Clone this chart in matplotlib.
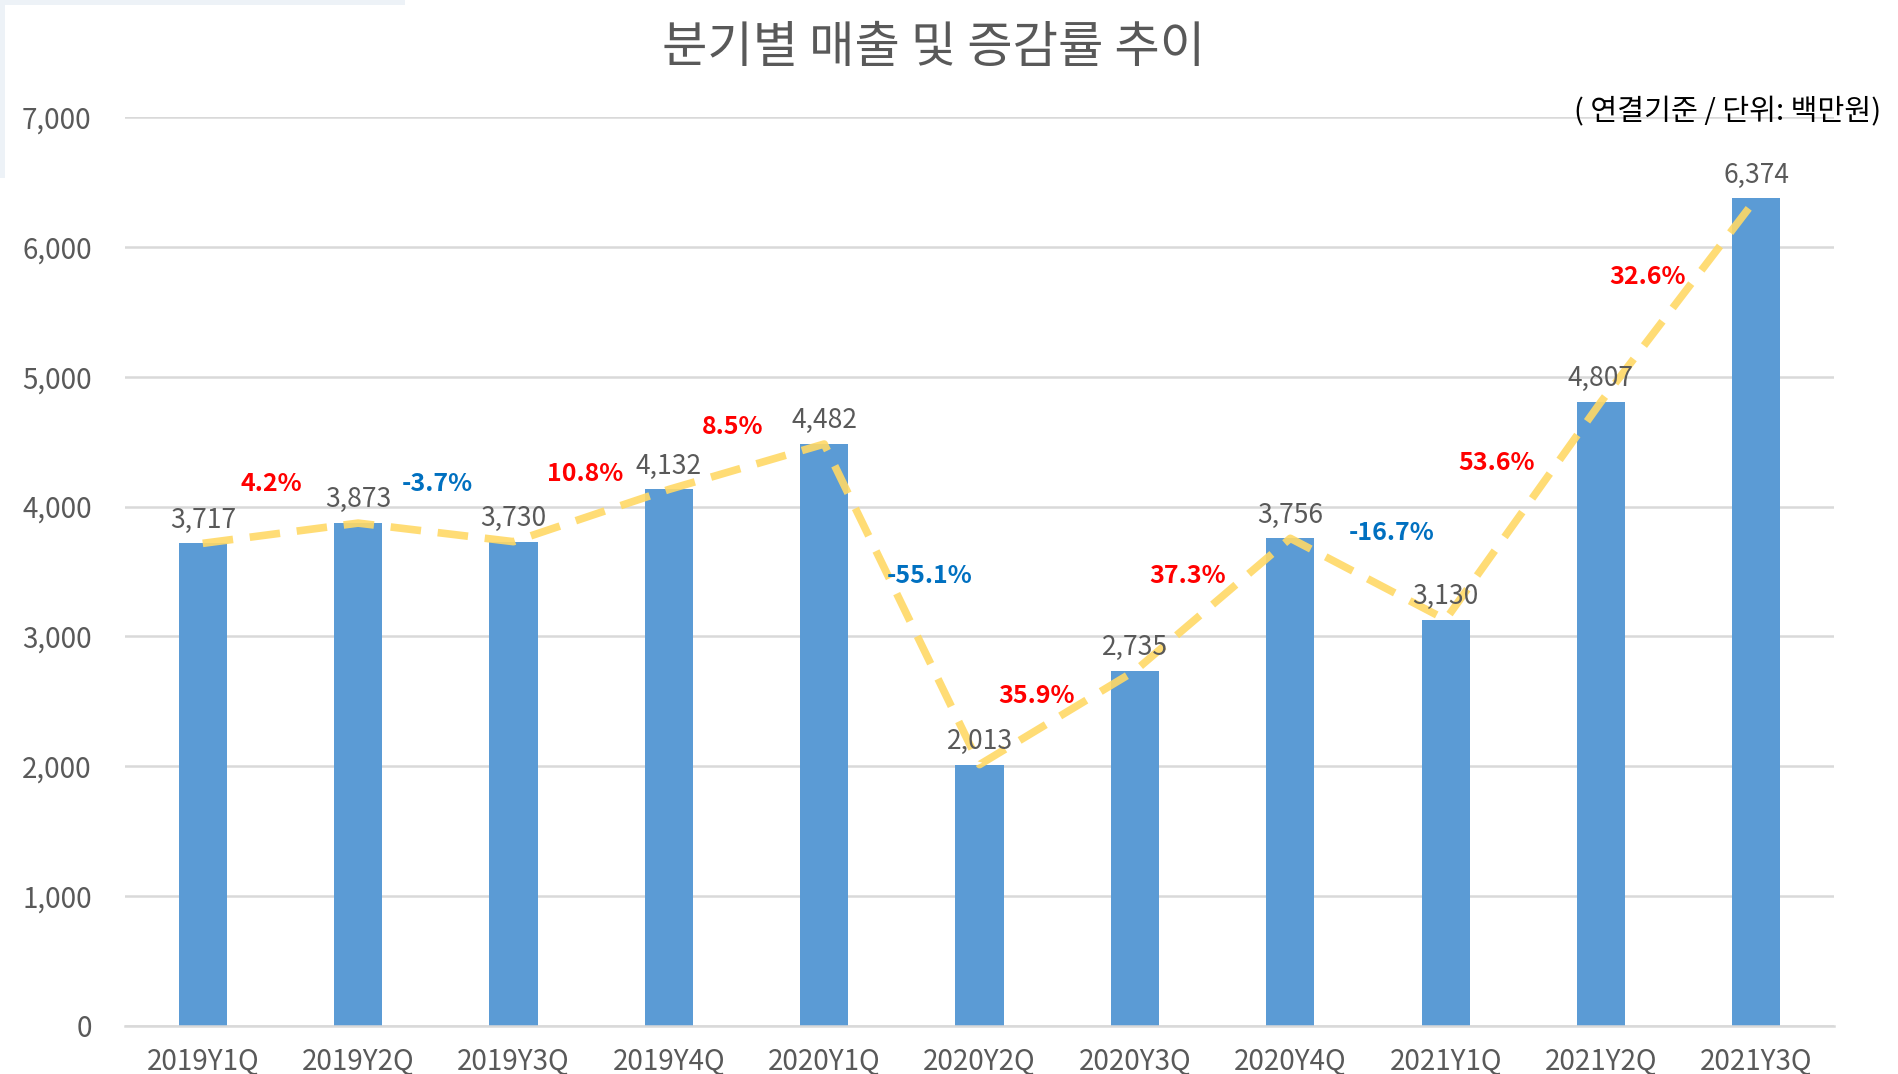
import matplotlib
matplotlib.use("Agg")
import matplotlib.pyplot as plt
from matplotlib.patches import Rectangle
import numpy as np

plt.rcParams['font.family'] = ['Noto Sans CJK KR', 'DejaVu Sans']

quarters = ["2019Y1Q", "2019Y2Q", "2019Y3Q", "2019Y4Q", "2020Y1Q", "2020Y2Q",
            "2020Y3Q", "2020Y4Q", "2021Y1Q", "2021Y2Q", "2021Y3Q"]
sales = [3717, 3873, 3730, 4132, 4482, 2013, 2735, 3756, 3130, 4807, 6374]
growth_labels = ["4.2%", "-3.7%", "10.8%", "8.5%", "-55.1%", "35.9%",
                 "37.3%", "-16.7%", "53.6%", "32.6%"]
growth_x = [0.44, 1.51, 2.46, 3.41, 4.68, 5.37, 6.34, 7.65, 8.33, 9.30]
growth_y = [4175, 4175, 4250, 4613, 3467, 2544, 3467, 3793, 4334, 5769]
yticks = [0, 1000, 2000, 3000, 4000, 5000, 6000, 7000]

fig = plt.figure(figsize=(18.98, 10.74), dpi=100)

# faint screenshot border in the top-left corner
fig.patches.append(Rectangle((0, 1 - 5 / 1074), 405 / 1898, 5 / 1074,
                             transform=fig.transFigure, color="#EDF2F7", lw=0, zorder=0))
fig.patches.append(Rectangle((0, 1 - 178 / 1074), 5 / 1898, 178 / 1074,
                             transform=fig.transFigure, color="#EDF2F7", lw=0, zorder=0))

ax = fig.add_axes([0.0659, 0.0447, 0.9004, 0.8463])

x = np.arange(len(quarters))
ax.bar(x, sales, width=0.31, color="#5B9BD5", zorder=2)
ax.plot(x, sales, color="#FFD966", lw=5.5, ls=(0, (4, 2.2)), alpha=0.9, zorder=3,
        dash_capstyle='butt')

for xi, v in zip(x, sales):
    ax.annotate(f"{v:,}", (xi, v), xytext=(0, 7), textcoords="offset points",
                ha="center", va="bottom", fontsize=19, color="#595959", zorder=4)

for lbl, gx, gy in zip(growth_labels, growth_x, growth_y):
    col = "#0070C0" if lbl.startswith("-") else "#FF0000"
    ax.text(gx, gy, lbl, ha="center", va="center", fontsize=18,
            fontweight="bold", color=col, zorder=5)

ax.set_xlim(-0.5, len(quarters) - 0.5)
ax.set_ylim(0, 7000)
ax.set_yticks(yticks)
ax.set_yticklabels([f"{t:,}" for t in yticks])
ax.set_xticks(x)
ax.set_xticklabels(quarters)
ax.tick_params(axis="both", length=0, labelsize=20, labelcolor="#595959")
ax.tick_params(axis="y", pad=24)
ax.tick_params(axis="x", pad=15)
ax.grid(axis="y", color="#D9D9D9", lw=1.8, zorder=0)
for s in ["top", "right", "left"]:
    ax.spines[s].set_visible(False)
ax.spines["bottom"].set_color("#D9D9D9")
ax.spines["bottom"].set_linewidth(1.8)

fig.text(0.492, 0.955, "분기별 매출 및 증감률 추이", ha="center", va="center",
         fontsize=35.5, fontweight="medium", color="#595959")
fig.text(0.991, 0.895, "( 연결기준 / 단위: 백만원)", ha="right", va="center",
         fontsize=21, color="#000000", zorder=5)

fig.savefig("out.png", dpi=100)
